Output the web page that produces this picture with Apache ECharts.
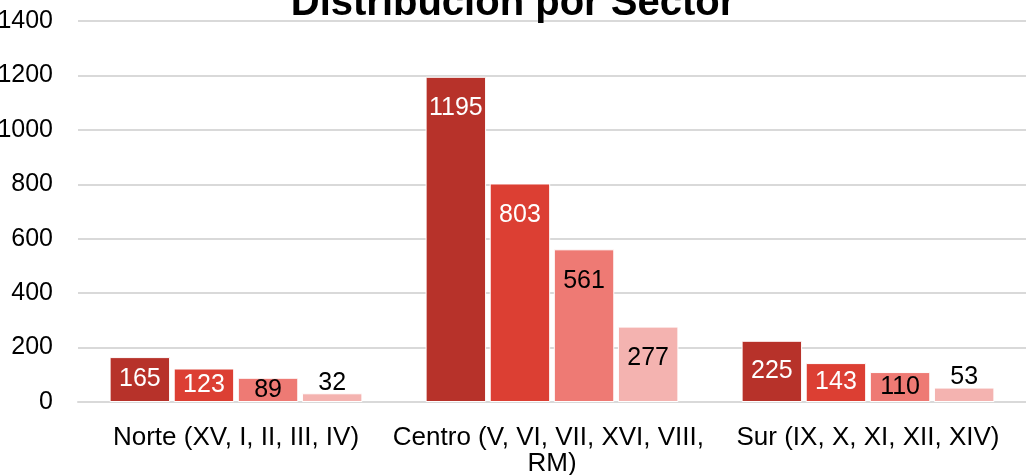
<!DOCTYPE html>
<html>
<head>
<meta charset="utf-8">
<script src="https://cdn.jsdelivr.net/npm/echarts@6/dist/echarts.min.js"></script>
<style>
  html, body { margin: 0; padding: 0; background: #fff; }
  #chart { width: 1026px; height: 475px; }
</style>
</head>
<body>
<div id="chart"></div>
<script>
// datos del gráfico
const categories = ['Norte (XV, I, II, III, IV)', 'Centro (V, VI, VII, XVI, VIII, RM)', 'Sur (IX, X, XI, XII, XIV)']
const serie1 = [165, 1195, 225]
const serie2 = [123, 803, 143]
const serie3 = [89, 561, 110]
const serie4 = [32, 277, 53]
const yTicks = [0, 200, 400, 600, 800, 1000, 1200, 1400]

const colores = ['#B7322A', '#DC3F33', '#EE7A74', '#F4B3B0']
const colorEtiqueta = ['#fff', '#fff', '#000', '#000']
const font = 'Liberation Sans, Arial, sans-serif'

let chart = echarts.init(document.getElementById('chart'))

// posicion de la etiqueta segun el alto de la barra (como Excel)
let etiqueta = (v) => {
  if (v < 60) return { position: 'top', distance: -2 }
  if (v <= 230) return { position: 'inside' }
  return { position: 'insideTop', distance: 19 }
}

let makeSerie = (vals, i) => ({
  type: 'bar',
  data: vals.map(v => ({ value: v, label: etiqueta(v) })),
  barGap: '6%',
  barCategoryGap: '20%',
  itemStyle: { color: colores[i], borderColor: '#fff', borderWidth: 1 },
  label: {
    show: true,
    color: colorEtiqueta[i],
    fontSize: 25,
    fontFamily: font
  }
})

let option = {
  animation: false,
  title: {
    text: 'Distribución por Sector',
    left: 'center',
    top: -21,
    textStyle: { fontSize: 40, fontWeight: 'bold', color: '#000', fontFamily: font }
  },
  grid: { left: 78, right: 0, top: 21, bottom: 73, outerBoundsMode: 'none' },
  xAxis: {
    type: 'category',
    data: categories,
    axisTick: { show: false },
    axisLine: { lineStyle: { color: '#D9D9D9', width: 2 } },
    axisLabel: {
      interval: 0,
      margin: 23,
      fontSize: 26,
      lineHeight: 26,
      color: '#000',
      fontFamily: font,
      width: 340,
      overflow: 'break'
    }
  },
  yAxis: {
    type: 'value',
    min: yTicks[0],
    max: yTicks[yTicks.length - 1],
    interval: 200,
    axisLine: { show: false },
    axisTick: { show: false },
    splitLine: { lineStyle: { color: '#D9D9D9', width: 2 } },
    axisLabel: {
      margin: 25,
      fontSize: 25,
      color: '#000',
      fontFamily: font,
      formatter: (v) => String(v)
    }
  },
  series: [serie1, serie2, serie3, serie4].map(makeSerie)
}

chart.setOption(option)
</script>
</body>
</html>
